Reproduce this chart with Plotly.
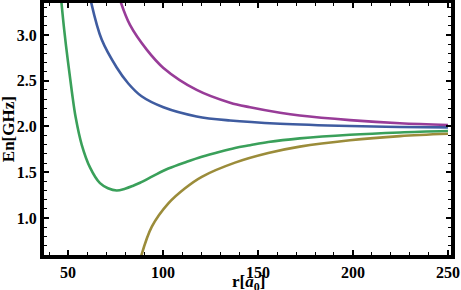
import plotly.graph_objects as go

# Data
green_r = [46.4, 48.0, 50.0, 52.0, 54.0, 57.2, 61.6, 66.8, 71.0, 75.6, 80.0, 84.0, 87.9, 94.9, 102.8, 112.5, 120.4, 130.0, 137.9, 145.8, 155.4, 172.0, 198.4, 224.7, 250.0]
green_v = [3.38, 3.05, 2.70, 2.38, 2.10, 1.80, 1.55, 1.38, 1.325, 1.30, 1.32, 1.35, 1.385, 1.46, 1.54, 1.615, 1.67, 1.725, 1.765, 1.795, 1.83, 1.87, 1.91, 1.935, 1.95]

blue_r = [61.9, 67.7, 75.6, 81.7, 88.7, 100.2, 117.7, 135.3, 161.6, 198.4, 224.7, 250.0]
blue_v = [3.38, 2.95, 2.645, 2.47, 2.33, 2.21, 2.11, 2.065, 2.03, 2.005, 1.995, 1.99]

purple_r = [77.4, 82.6, 91.4, 100.2, 117.7, 135.3, 145.8, 161.6, 172.0, 198.4, 224.7, 250.0]
purple_v = [3.38, 3.11, 2.84, 2.64, 2.40, 2.26, 2.21, 2.15, 2.12, 2.07, 2.035, 2.017]

olive_r = [88.3, 94.1, 102.8, 111.6, 120.4, 137.9, 155.4, 172.0, 198.4, 224.7, 250.0]
olive_v = [0.57, 0.905, 1.16, 1.325, 1.45, 1.605, 1.71, 1.78, 1.85, 1.895, 1.92]

x_ticks = [50, 100, 150, 200, 250]
y_ticks = [1.0, 1.5, 2.0, 2.5, 3.0]
y_tick_labels = ["1.0", "1.5", "2.0", "2.5", "3.0"]
x_title = "r[<i>a</i><sub>0</sub>]"
y_title = "En[GHz]"

series = [
    (green_r, green_v, "rgb(58,160,90)"),
    (blue_r, blue_v, "rgb(63,92,160)"),
    (purple_r, purple_v, "rgb(152,60,152)"),
    (olive_r, olive_v, "rgb(155,140,58)"),
]

fig = go.Figure()
for r, v, c in series:
    fig.add_trace(go.Scatter(x=r, y=v, mode="lines", line=dict(color=c, width=2.6, shape="spline", smoothing=1.0),
                             hoverinfo="skip", showlegend=False))

font_fam = "Liberation Serif"
tickfont = dict(family=font_fam, size=16, color="black", weight="bold")
titlefont = dict(family=font_fam, size=17, color="black", weight="bold")

fig.update_layout(
    width=461, height=290,
    margin=dict(l=44, r=10, t=3, b=35),
    paper_bgcolor="white", plot_bgcolor="white",
    showlegend=False,
    annotations=[
        dict(text=x_title, xref="paper", yref="paper", x=0.502, y=-0.112, xanchor="center", yanchor="middle",
             showarrow=False, font=titlefont),
        dict(text=y_title, xref="paper", yref="paper", x=-0.088, y=0.50, xanchor="center", yanchor="middle",
             textangle=-90, showarrow=False, font=titlefont),
    ],
)
fig.update_xaxes(
    automargin=False,
    range=[37.33, 251.6], tickvals=x_ticks, ticktext=[str(t) for t in x_ticks],
    showgrid=False, zeroline=False, showline=True, linewidth=4, linecolor="black", mirror="allticks",
    ticks="inside", ticklen=5, tickwidth=2, tickcolor="black", tickfont=tickfont,
    minor=dict(dtick=10, ticks="inside", ticklen=3, tickwidth=1, tickcolor="black"),
)
fig.update_yaxes(
    automargin=False,
    range=[0.595, 3.35], tickvals=y_ticks, ticktext=y_tick_labels,
    showgrid=False, zeroline=False, showline=True, linewidth=4, linecolor="black", mirror="allticks",
    ticks="inside", ticklen=5, tickwidth=2, tickcolor="black", tickfont=tickfont,
    minor=dict(dtick=0.1, ticks="inside", ticklen=3, tickwidth=1, tickcolor="black"),
)
fig.write_html("out.html", config={"displayModeBar": False, "staticPlot": True},
               post_script="document.body.style.margin='0';document.body.style.overflow='hidden';")
